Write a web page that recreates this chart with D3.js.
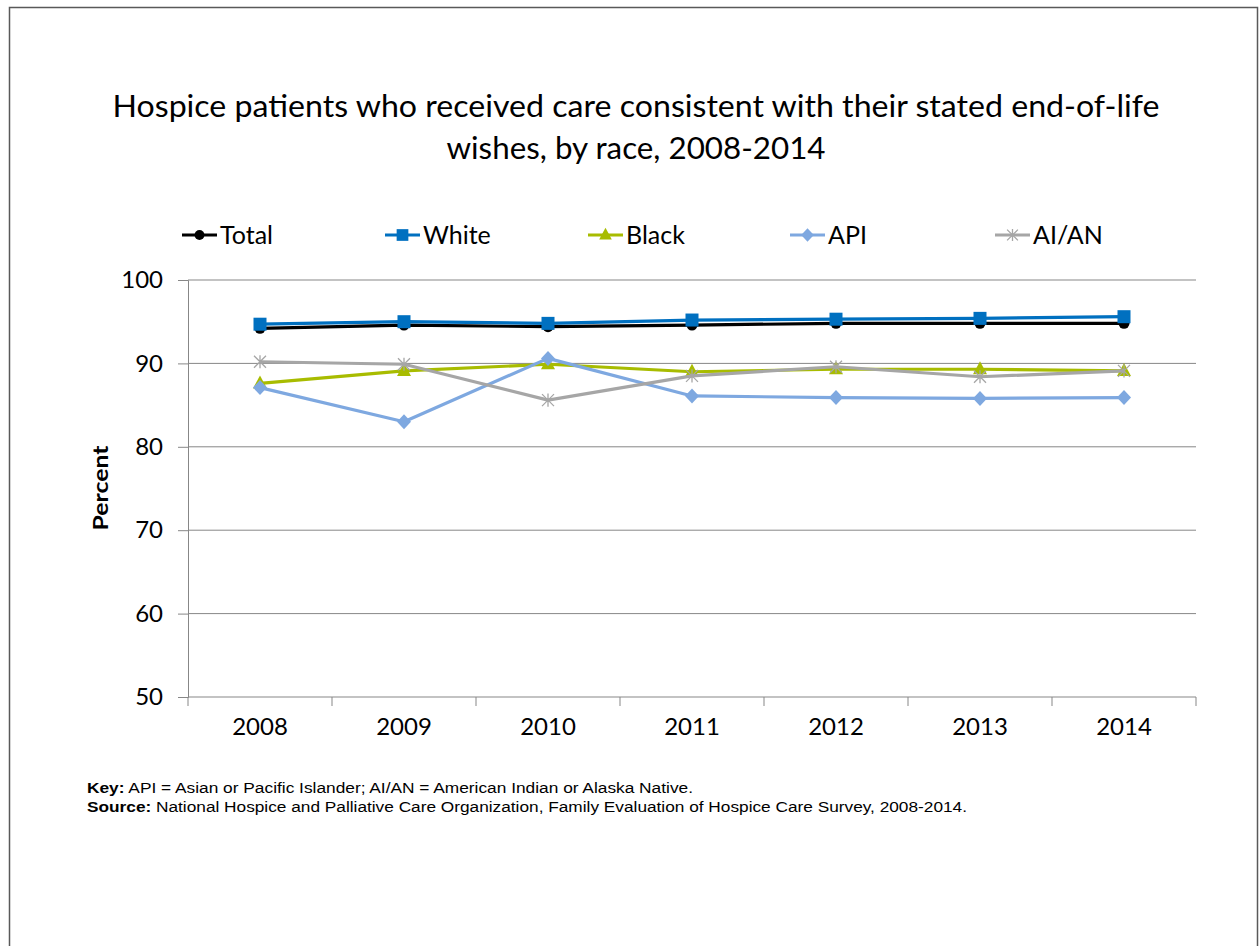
<!DOCTYPE html>
<html><head><meta charset="utf-8">
<script src="https://cdn.jsdelivr.net/npm/d3@7"></script>
<style>body{margin:0;background:#fff}svg{display:block}</style>
</head><body>
<script>
const years = ["2008","2009","2010","2011","2012","2013","2014"];
const yTicks = [50,60,70,80,90,100];
const seriesNames = ["Total","White","Black","API","AI/AN"];
const total = [94.2,94.6,94.4,94.6,94.8,94.8,94.8];
const white = [94.7,95.0,94.8,95.2,95.3,95.4,95.6];
const black = [87.6,89.1,89.9,89.0,89.3,89.3,89.1];
const api   = [87.1,83.0,90.6,86.1,85.9,85.8,85.9];
const aian  = [90.2,89.9,85.6,88.5,89.6,88.4,89.1];
const colors = ["#000000","#0070C0","#A8BC00","#7EA8E0","#A6A6A6"];
const symbols = ["circle","square","triangle","diamond","asterisk"];
const values = [total, white, black, api, aian];

const W = 1259, H = 946;
const svg = d3.select("body").append("svg").attr("width", W).attr("height", H);
svg.append("rect").attr("x",9.5).attr("y",7.5).attr("width",1248).attr("height",950)
  .attr("fill","#fff").attr("stroke","#595959").attr("stroke-width",1.5);

const font = "Lato, 'Open Sans', sans-serif";
const title = svg.append("text").attr("text-anchor","middle").attr("font-family",font)
  .attr("font-size",30).attr("fill","#000");
title.append("tspan").attr("x",636).attr("y",117).attr("textLength",1047).attr("lengthAdjust","spacingAndGlyphs")
  .text("Hospice patients who received care consistent with their stated end-of-life");
title.append("tspan").attr("x",636).attr("y",159).attr("textLength",379).attr("lengthAdjust","spacingAndGlyphs")
  .text("wishes, by race, 2008-2014");

const x = d3.scaleBand().domain(years).range([188,1196]);
const y = d3.scaleLinear().domain([50,100]).range([697,280]);

// gridlines
svg.append("g").selectAll("line").data(yTicks.filter(d=>d>50)).join("line")
  .attr("x1",188).attr("x2",1196).attr("y1",d=>y(d)).attr("y2",d=>y(d))
  .attr("stroke","#878787").attr("stroke-width",1);

const yAxis = svg.append("g").attr("transform","translate(188,0)")
  .call(d3.axisLeft(y).tickValues(yTicks).tickSize(10).tickPadding(15));
yAxis.select(".domain").attr("stroke","#878787");
yAxis.selectAll(".tick line").attr("stroke","#878787");
yAxis.selectAll("text").attr("font-family",font).attr("font-size",24).attr("fill","#000");

const xAxis = svg.append("g").attr("transform","translate(0,697)")
  .call(d3.axisBottom(x).tickSize(0).tickPadding(21));
xAxis.select(".domain").attr("stroke","#878787").attr("d","M188,0H1196");
xAxis.selectAll("text").attr("font-family",font).attr("font-size",24).attr("fill","#000");
const bounds = years.map(d=>x(d)).concat([x(years[6])+x.bandwidth()]);
xAxis.append("g").selectAll("line").data(bounds).join("line")
  .attr("x1",d=>d).attr("x2",d=>d).attr("y1",0).attr("y2",9).attr("stroke","#878787");

svg.append("text").attr("transform","translate(108,488) rotate(-90)").attr("text-anchor","middle")
  .attr("font-family",font).attr("font-weight","bold").attr("font-size",21)
  .attr("textLength",85).attr("lengthAdjust","spacingAndGlyphs")
  .text("Percent");

function drawMarker(g, sym, color, cx, cy, scale) {
  scale = scale || 1;
  if (sym === "circle") g.append("circle").attr("cx",cx).attr("cy",cy).attr("r",5.5*scale).attr("fill",color);
  else if (sym === "square") g.append("rect").attr("x",cx-6.5*scale).attr("y",cy-6.5*scale).attr("width",13*scale).attr("height",13*scale).attr("fill",color);
  else if (sym === "triangle") g.append("path").attr("d",`M${cx},${cy-8*scale}L${cx+7*scale},${cy+5*scale}L${cx-7*scale},${cy+5*scale}Z`).attr("fill",color);
  else if (sym === "diamond") g.append("path").attr("d",`M${cx},${cy-7.5*scale}L${cx+7*scale},${cy}L${cx},${cy+7.5*scale}L${cx-7*scale},${cy}Z`).attr("fill",color);
  else if (sym === "asterisk") {
    const r = 6*scale;
    const p = `M${cx-r},${cy-r}L${cx+r},${cy+r}M${cx-r},${cy+r}L${cx+r},${cy-r}M${cx},${cy-r*1.1}L${cx},${cy+r*1.1}`;
    g.append("path").attr("d",p).attr("stroke",color).attr("stroke-width",1.3).attr("fill","none");
  }
}

const line = d3.line().x((d,i)=>x(years[i])+x.bandwidth()/2).y(d=>y(d));
values.forEach((vals,k)=>{
  const g = svg.append("g");
  g.append("path").datum(vals).attr("d",line).attr("fill","none")
    .attr("stroke",colors[k]).attr("stroke-width",3.2).attr("stroke-linejoin","round");
  vals.forEach((v,i)=>drawMarker(g, symbols[k], colors[k], x(years[i])+x.bandwidth()/2, y(v)));
});

// legend
const legX = [182,385,588,790,995];
seriesNames.forEach((n,k)=>{
  const g = svg.append("g");
  g.append("line").attr("x1",legX[k]).attr("x2",legX[k]+35).attr("y1",235).attr("y2",235)
    .attr("stroke",colors[k]).attr("stroke-width",3.2);
  drawMarker(g, symbols[k], colors[k], legX[k]+17.5, 235, 0.9);
  g.append("text").attr("x",legX[k]+38).attr("y",244).attr("font-family",font).attr("font-size",25).text(n);
});

// footer
const ff = "'Liberation Sans', Arial, sans-serif";
const k1 = svg.append("text").attr("x",87).attr("y",793).attr("font-family",ff).attr("font-size",14)
  .attr("textLength",606).attr("lengthAdjust","spacingAndGlyphs");
k1.append("tspan").attr("font-weight","bold").text("Key:");
k1.append("tspan").text(" API = Asian or Pacific Islander; AI/AN = American Indian or Alaska Native.");
const k2 = svg.append("text").attr("x",87).attr("y",812).attr("font-family",ff).attr("font-size",14)
  .attr("textLength",880).attr("lengthAdjust","spacingAndGlyphs");
k2.append("tspan").attr("font-weight","bold").text("Source:");
k2.append("tspan").text(" National Hospice and Palliative Care Organization, Family Evaluation of Hospice Care Survey, 2008-2014.");
</script>
</body></html>
